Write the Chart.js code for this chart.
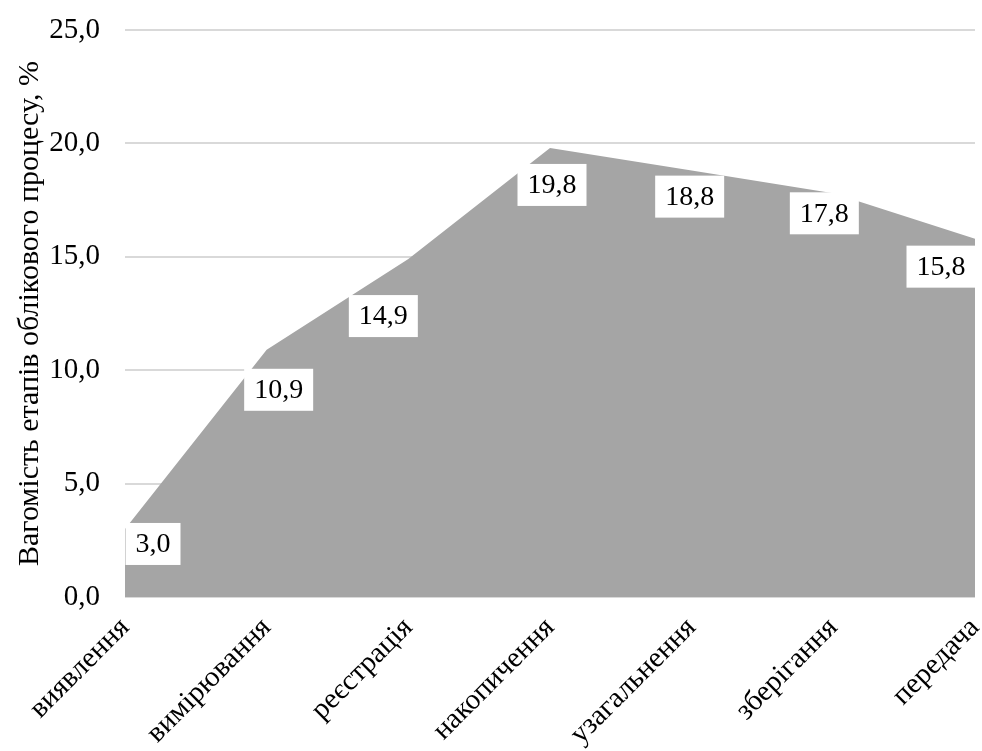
<!DOCTYPE html>
<html lang="uk">
<head>
<meta charset="utf-8">
<script src="https://cdn.jsdelivr.net/npm/chart.js@4/dist/chart.umd.min.js"></script>
<style>
  html, body { margin: 0; padding: 0; background: #fff; }
  #wrap { width: 982px; height: 751px; }
</style>
</head>
<body>
<div id="wrap"><canvas id="stages"></canvas></div>
<script>
const stages = ['виявлення', 'вимірювання', 'реєстрація', 'накопичення', 'узагальнення', 'зберігання', 'передача'];
const weights = [3.0, 10.9, 14.9, 19.8, 18.8, 17.8, 15.8];
const yTicks = [0, 5, 10, 15, 20, 25];

const serif = '"Liberation Serif", "Times New Roman", serif';
const fmt = v => Number(v).toFixed(1).replace('.', ',');

// where each value box sits relative to its point (dx, dy)
const labelNudge = [[28, 15], [12, 40], [-25, 57], [2, 37], [-2, 26], [-9, 20], [-34, 28]];

const valueBoxes = {
  id: 'valueBoxes',
  afterDatasetsDraw(chart){
    const ctx = chart.ctx;
    const meta = chart.getDatasetMeta(0);
    ctx.save();
    ctx.font = '28px ' + serif;
    ctx.textAlign = 'center';
    ctx.textBaseline = 'middle';
    meta.data.forEach((pt, i) => {
      const txt = fmt(chart.data.datasets[0].data[i]);
      const [dx, dy] = labelNudge[i] || [0, 30];
      const cx = pt.x + dx, cy = pt.y + dy;
      const w = ctx.measureText(txt).width + 20, h = 42;
      ctx.fillStyle = '#fff';
      ctx.fillRect(cx - w / 2, cy - h / 2, w, h);
      ctx.fillStyle = '#000';
      ctx.fillText(txt, cx, cy + 1);
    });
    ctx.restore();
  }
};

new Chart(document.getElementById('stages'), {
  type: 'line',
  data: {
    labels: stages,
    datasets: [{
      data: weights,
      fill: 'origin',
      backgroundColor: '#a5a5a5',
      borderWidth: 0,
      pointRadius: 0,
      tension: 0
    }]
  },
  options: {
    responsive: true,
    maintainAspectRatio: false,
    animation: false,
    layout: { padding: { top: 30, right: 7, left: 12, bottom: 0 } },
    plugins: { legend: { display: false }, tooltip: { enabled: false } },
    scales: {
      x: {
        type: 'category',
        offset: false,
        grid: { display: false, drawTicks: false },
        border: { display: false },
        ticks: { color: '#000', font: { family: serif, size: 29 }, maxRotation: 45, minRotation: 45, padding: 14, autoSkip: false },
        afterFit(s){ s.height = 154; s.paddingLeft = 0; s.paddingRight = 0; }
      },
      y: {
        min: 0,
        max: 25,
        afterBuildTicks(s){ s.ticks = yTicks.map(v => ({ value: v })); },
        grid: { color: '#d9d9d9', lineWidth: 2, drawTicks: false },
        border: { display: false },
        ticks: { color: '#000', font: { family: serif, size: 29 }, padding: 25, callback: v => fmt(v) },
        title: { display: true, text: 'Вагомість етапів облікового процесу, %', color: '#000', font: { family: serif, size: 30 }, padding: { top: 0, bottom: 4 } },
        afterFit(s){ s.width = 113; s.paddingTop = 0; s.paddingBottom = 0; }
      }
    }
  },
  plugins: [valueBoxes]
});
</script>
</body>
</html>
